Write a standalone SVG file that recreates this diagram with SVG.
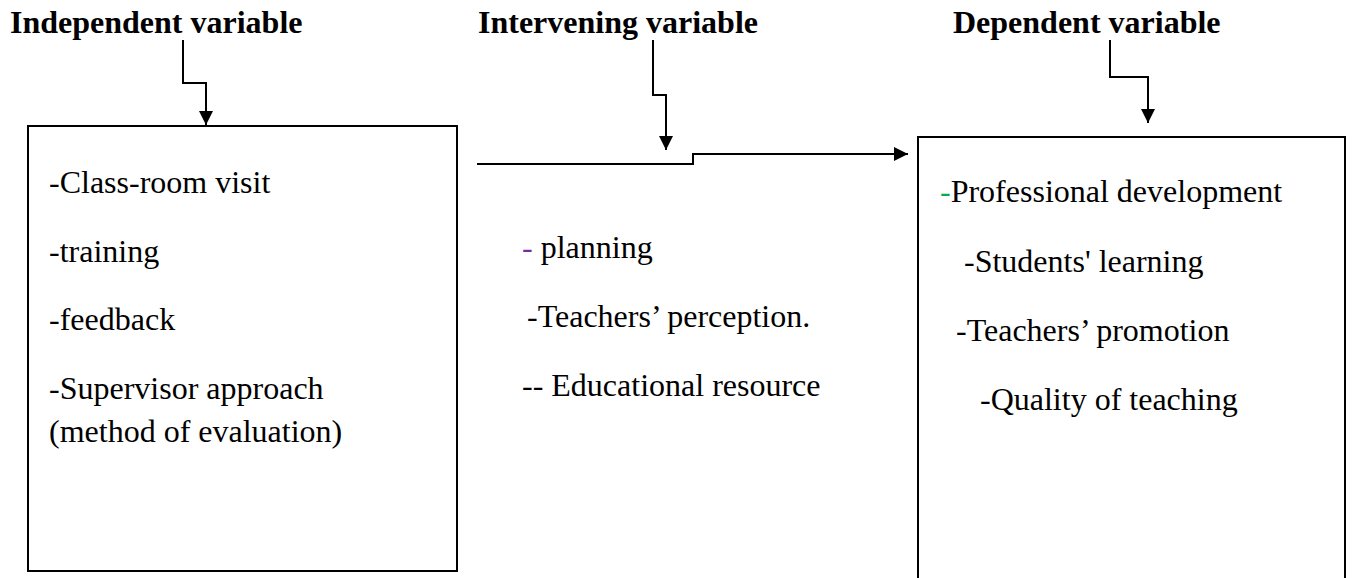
<svg xmlns="http://www.w3.org/2000/svg" width="1352" height="578" viewBox="0 0 1352 578">
<style>
.title{font-family:"Liberation Serif","Times New Roman",serif;font-weight:bold;font-size:32px;fill:#000}
.body{font-family:"Liberation Serif","Times New Roman",serif;font-size:32px;fill:#000}
.box{fill:#fff;stroke:#000;stroke-width:2}
.conn{fill:none;stroke:#000;stroke-width:2}
</style>
<defs>
<marker id="ah" viewBox="0 0 10 10" refX="10" refY="5" markerWidth="7" markerHeight="7" markerUnits="strokeWidth" orient="auto">
<path d="M0,0 L10,5 L0,10 Z" fill="#000"/>
</marker>
</defs>
<rect width="1352" height="578" fill="#fff"/>
<g id="title-independent"><text class="title" x="10" y="33">Independent variable</text></g>
<g id="title-intervening"><text class="title" x="478" y="33">Intervening variable</text></g>
<g id="title-dependent"><text class="title" x="953" y="33">Dependent variable</text></g>
<g id="independent">
<rect class="box" x="28" y="126" width="429" height="445"/>
<text class="body" x="49" y="193">-Class-room visit</text>
<text class="body" x="49" y="262">-training</text>
<text class="body" x="49" y="330">-feedback</text>
<text class="body" x="49" y="399">-Supervisor approach</text>
<text class="body" x="49" y="442">(method of evaluation)</text>
</g>
<g id="intervening">
<text class="body" x="522" y="258"><tspan fill="#7030A0">-</tspan> planning</text>
<text class="body" x="527" y="327">-Teachers’ perception.</text>
<text class="body" x="522" y="396">-- Educational resource</text>
</g>
<g id="dependent">
<rect class="box" x="918" y="137" width="427" height="460"/>
<text class="body" x="940" y="202"><tspan fill="#00B050">-</tspan>Professional development</text>
<text class="body" x="964" y="272">-Students' learning</text>
<text class="body" x="956" y="341">-Teachers’ promotion</text>
<text class="body" x="980" y="410">-Quality of teaching</text>
</g>
<g id="connectors">
<path class="conn" d="M183,40 V83 H206 V125" marker-end="url(#ah)"/>
<path class="conn" d="M653,40 V95 H666 V150" marker-end="url(#ah)"/>
<path class="conn" d="M477,164 H693 V154 H908" marker-end="url(#ah)"/>
<path class="conn" d="M1110,40 V77 H1148 V123" marker-end="url(#ah)"/>
</g>
</svg>
